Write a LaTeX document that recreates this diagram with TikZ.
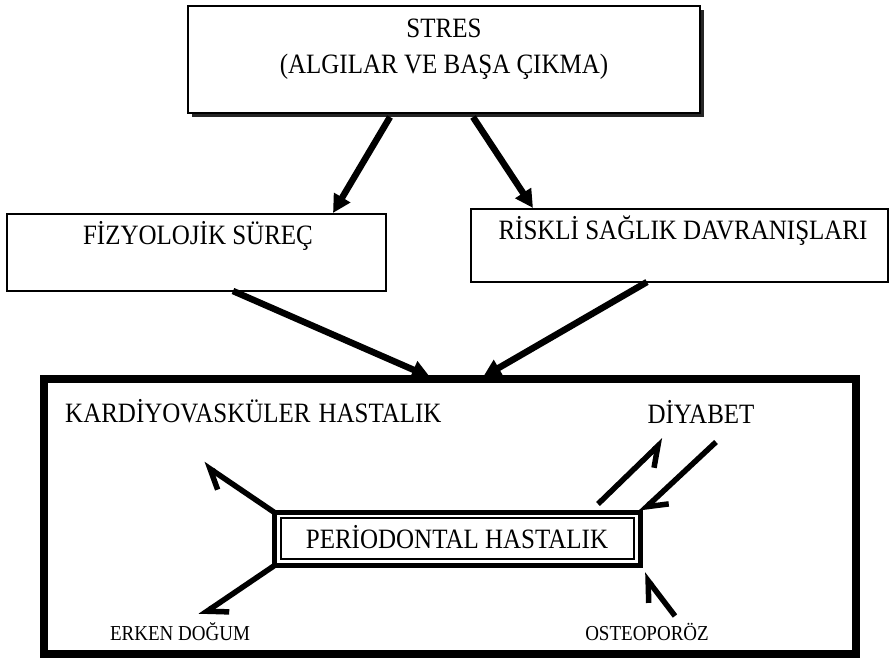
\documentclass[tikz,border=0pt]{standalone}
\usepackage{fontspec}
\usepackage{graphicx}
\setmainfont{Liberation Serif}
\usetikzlibrary{arrows.meta,calc}
\newcommand{\tallTxt}[1]{\scalebox{1}[1.12]{#1}}
\begin{document}
\begin{tikzpicture}[x=1pt,y=-1pt,
  plainbox/.style={draw=black, line width=1.5pt, fill=white, inner sep=0pt, outer sep=0pt, anchor=north west},
  lbl/.style={font=\fontsize{25}{30}\selectfont, inner sep=0pt, anchor=base},
  smalllbl/.style={font=\fontsize{19}{22}\selectfont, inner sep=0pt, anchor=base},
  thickarrow/.style={line width=6.5pt, -{Triangle[length=18pt,width=18pt]}},
  barbarrow/.style={line width=5.5pt, -{Straight Barb[harpoon,length=18pt,width=26pt]}},
  barbarrowR/.style={line width=5.5pt, -{Straight Barb[harpoon,swap,length=18pt,width=26pt]}}
]
\fill[white] (0,0) rectangle (889,659);
\useasboundingbox (0,0) rectangle (889,659);

% STRES box with shadow
\fill[black!85] (191.5,9.5) rectangle (703.5,116.5);
\node[plainbox, minimum width=512pt, minimum height=107pt] (stres) at (188,6) {};
\node[lbl] (stresA) at (444,37) {\tallTxt{STRES}};
\node[lbl] (stresB) at (444,73) {\tallTxt{(ALGILAR VE BAŞA ÇIKMA)}};

% middle boxes
\node[plainbox, minimum width=379pt, minimum height=77pt] (fiz) at (7,214) {};
\node[lbl] (fizT) at (198,244) {\tallTxt{FİZYOLOJİK SÜREÇ}};
\node[plainbox, minimum width=417pt, minimum height=73pt] (risk) at (471,209) {};
\node[lbl] (riskT) at (683,239) {\tallTxt{RİSKLİ SAĞLIK DAVRANIŞLARI}};

% outer big box
\node[draw=black, line width=8pt, inner sep=0pt, outer sep=0pt, anchor=north west,
      minimum width=812pt, minimum height=275pt] (outer) at (44,379) {};

\node[lbl, anchor=base west] (kardT) at (65,422) {\tallTxt{KARDİYOVASKÜLER\hspace{8pt}HASTALIK}};
\node[lbl] (diyT) at (701,423) {\tallTxt{DİYABET}};
\node[smalllbl] (erkT) at (180,640) {\tallTxt{ERKEN DOĞUM}};
\node[smalllbl] (ostT) at (647,640) {\tallTxt{OSTEOPORÖZ}};

% periodontal box
\node[draw=black, line width=5pt, inner sep=0pt, outer sep=0pt, anchor=north west,
      minimum width=366pt, minimum height=53pt] (perio) at (274.5,512.5) {};
\node[draw=black, line width=1.2pt, inner sep=0pt, outer sep=0pt, anchor=north west,
      minimum width=353pt, minimum height=41pt] (perioin) at (281,518) {};
\node[lbl] (perT) at (457,548) {\tallTxt{PERİODONTAL HASTALIK}};

% connector end points
\coordinate (sA) at (390,117);
\coordinate (fizIn) at (333,213);
\coordinate (sB) at (473,117);
\coordinate (riskIn) at (533,208);
\coordinate (fizOut) at (233,291);
\coordinate (outIn1) at (430,377);
\coordinate (riskOut) at (647,282);
\coordinate (outIn2) at (483,377);
\coordinate (kardEnd) at (203,464);
\coordinate (erkEnd) at (200,616);
\coordinate (ostStart) at (675,616);
\coordinate (ostTip) at (643,574);
\coordinate (diyUpStart) at (598,504);
\coordinate (diyUpEnd) at (664,440);
\coordinate (diyDownStart) at (716,442);

% connectors
\draw[thickarrow] (sA) -- (fizIn);
\draw[thickarrow] (sB) -- (riskIn);
\draw[thickarrow] (fizOut) -- (outIn1);
\draw[thickarrow] (riskOut) -- (outIn2);

\draw[barbarrow] (perio.north west) -- (kardEnd);
\draw[barbarrow] (perio.south west) -- (erkEnd);
\draw[barbarrow] (ostStart) -- (ostTip);
\draw[barbarrowR] (diyUpStart) -- (diyUpEnd);
\draw[barbarrow] (diyDownStart) -- (perio.north east);
\end{tikzpicture}
\end{document}
